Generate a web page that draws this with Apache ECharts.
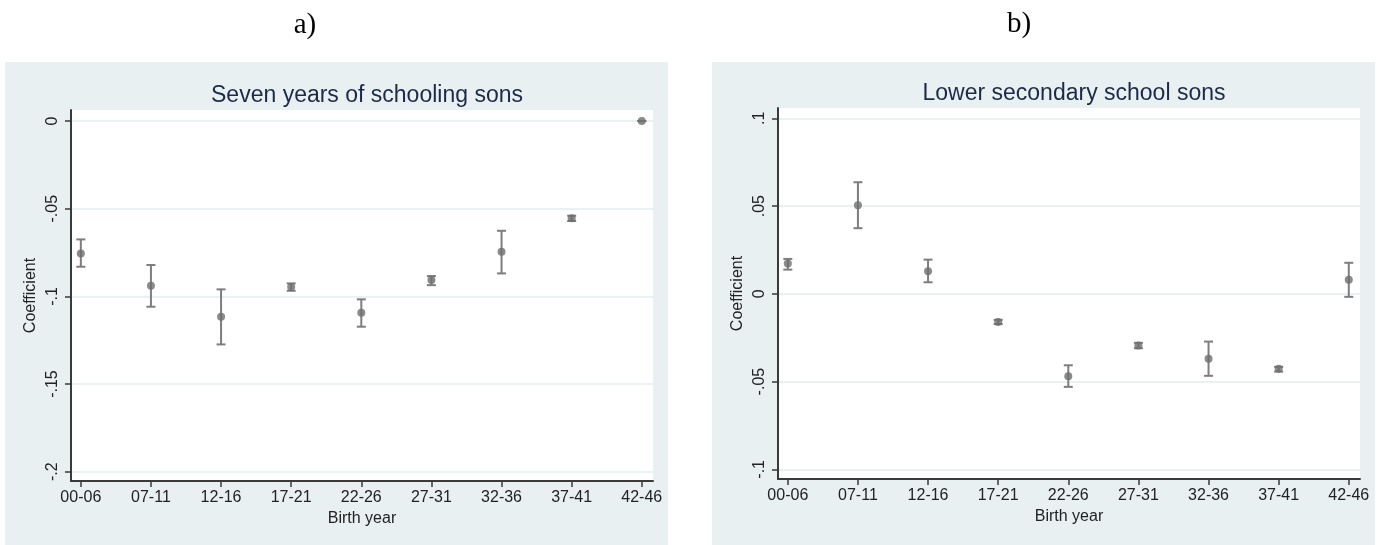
<!DOCTYPE html>
<html>
<head>
<meta charset="utf-8">
<script src="https://cdn.jsdelivr.net/npm/echarts@6/dist/echarts.min.js"></script>
<style>html,body{margin:0;padding:0;background:#fff;}#c{width:1385px;height:545px;}</style>
</head>
<body>
<div id="c"></div>
<script>
const categories = ['00-06','07-11','12-16','17-21','22-26','27-31','32-36','37-41','42-46'];
const coefA = [-0.0755,-0.0940,-0.1116,-0.0946,-0.1093,-0.0907,-0.0746,-0.0555,0];
const loA   = [-0.0831,-0.1059,-0.1274,-0.0968,-0.1173,-0.0936,-0.0869,-0.0570,0];
const hiA   = [-0.0675,-0.0821,-0.0960,-0.0926,-0.1017,-0.0884,-0.0626,-0.0540,0];
const coefB = [0.0173,0.0505,0.0129,-0.0160,-0.0469,-0.0295,-0.0370,-0.0427,0.0081];
const loB   = [0.0138,0.0374,0.0066,-0.0172,-0.0530,-0.0310,-0.0467,-0.0443,-0.0017];
const hiB   = [0.0199,0.0636,0.0195,-0.0148,-0.0407,-0.0279,-0.0272,-0.0416,0.0177];
const yTicksA = [-0.2,-0.15,-0.1,-0.05,0];
const yLabelsA = ['-.2','-.15','-.1','-.05','0'];
const yTicksB = [-0.1,-0.05,0,0.05,0.1];
const yLabelsB = ['-.1','-.05','0','.05','.1'];
const titleA = 'Seven years of schooling sons';
const titleB = 'Lower secondary school sons';

const FONT = "'Liberation Sans', Arial, sans-serif";
const xPos = categories.map((c,i)=>i);

function labelFor(ticks, labels){
  return function(v){
    let best=0, d=Infinity;
    ticks.forEach((t,i)=>{const dd=Math.abs(t-v); if(dd<d){d=dd;best=i;}});
    return labels[best];
  };
}

function xAxis(gi){
  return {
    gridIndex: gi, type:'value', min:-0.14, max:8.16,
    name:'Birth year', nameLocation:'middle', nameGap:27,
    nameTextStyle:{fontFamily:FONT, fontSize:16, color:'#222'},
    axisLine:{show:true, onZero:false, lineStyle:{color:'#3a3a3a', width:2}},
    axisTick:{show:true, length:6, customValues:xPos, lineStyle:{color:'#3a3a3a', width:1.5}},
    axisLabel:{customValues:xPos, margin:9, fontFamily:FONT, fontSize:16, color:'#222',
      formatter:function(v){return categories[Math.round(v)];}},
    splitLine:{show:false}
  };
}
function yAxis(gi, min, max, ticks, labels){
  return {
    gridIndex: gi, type:'value', min:min, max:max,
    name:'Coefficient', nameLocation:'middle', nameGap:32, nameRotate:90,
    nameTextStyle:{fontFamily:FONT, fontSize:16, color:'#222'},
    axisLine:{show:true, onZero:false, lineStyle:{color:'#3a3a3a', width:2}},
    axisTick:{show:true, length:6, customValues:ticks, lineStyle:{color:'#3a3a3a', width:1.5}},
    axisLabel:{customValues:ticks, rotate:90, margin:10, fontFamily:FONT, fontSize:16, color:'#222',
      formatter:labelFor(ticks, labels)},
    splitLine:{show:true, lineStyle:{color:'#e2ecee', width:1.5}}
  };
}

function errSeries(xi, lo, hi){
  return {
    type:'custom', xAxisIndex:xi, yAxisIndex:xi,
    data: xPos.map((x,i)=>[x, lo[i], hi[i]]),
    renderItem:function(params, api){
      const x = api.value(0);
      const a = api.coord([x, api.value(2)]);
      const b = api.coord([x, api.value(1)]);
      const w = 4.5;
      const st = {stroke:'#7e7e7e', lineWidth:2};
      return {type:'group', children:[
        {type:'line', shape:{x1:a[0], y1:a[1], x2:b[0], y2:b[1]}, style:st},
        {type:'line', shape:{x1:a[0]-w, y1:a[1], x2:a[0]+w, y2:a[1]}, style:st},
        {type:'line', shape:{x1:b[0]-w, y1:b[1], x2:b[0]+w, y2:b[1]}, style:st}
      ]};
    },
    z:3
  };
}
function ptSeries(xi, v){
  return {
    type:'scatter', xAxisIndex:xi, yAxisIndex:xi,
    data: xPos.map((x,i)=>[x, v[i]]),
    symbol:'circle', symbolSize:8,
    itemStyle:{color:'#6e6e6e'}, z:4
  };
}

const chart = echarts.init(document.getElementById('c'));
chart.setOption({
  animation:false,
  backgroundColor:'#ffffff',
  graphic:[
    {type:'rect', shape:{x:5, y:62, width:663, height:483}, style:{fill:'#e8f0f2'}, z:-10, silent:true},
    {type:'rect', shape:{x:712, y:62, width:663, height:483}, style:{fill:'#e8f0f2'}, z:-10, silent:true}
  ],
  title:[
    {text:'a)', left:300, top:6, textAlign:'center', textStyle:{fontFamily:"'Liberation Serif', 'Times New Roman', serif", fontSize:29, fontWeight:'normal', color:'#000'}},
    {text:'b)', left:1014, top:5, textAlign:'center', textStyle:{fontFamily:"'Liberation Serif', 'Times New Roman', serif", fontSize:29, fontWeight:'normal', color:'#000'}},
    {text:titleA, left:362, top:79, textAlign:'center', textStyle:{fontFamily:FONT, fontSize:23, fontWeight:'normal', color:'#1c2a48'}},
    {text:titleB, left:1069, top:77, textAlign:'center', textStyle:{fontFamily:FONT, fontSize:23, fontWeight:'normal', color:'#1c2a48'}}
  ],
  grid:[
    {left:71, top:110, width:582, height:371, show:true, backgroundColor:'#ffffff', borderWidth:0},
    {left:778, top:108, width:582, height:371, show:true, backgroundColor:'#ffffff', borderWidth:0}
  ],
  xAxis:[xAxis(0), xAxis(1)],
  yAxis:[
    yAxis(0, -0.2053, 0.0063, yTicksA, yLabelsA),
    yAxis(1, -0.1055, 0.1059, yTicksB, yLabelsB)
  ],
  series:[
    errSeries(0, loA, hiA), ptSeries(0, coefA),
    errSeries(1, loB, hiB), ptSeries(1, coefB)
  ]
});
</script>
</body>
</html>
